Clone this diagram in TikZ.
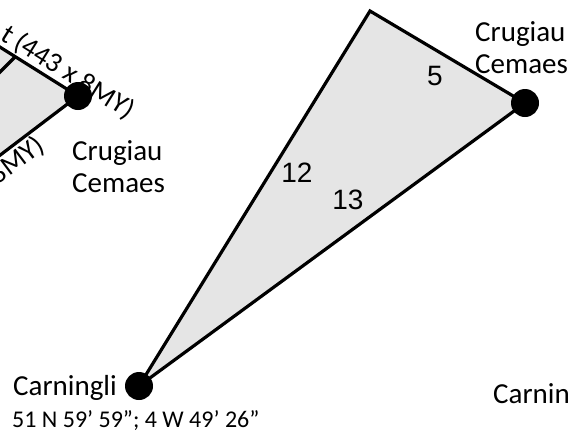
\documentclass[tikz,border=0pt]{standalone}
\usepackage{fontspec}
\setmainfont{Carlito}
\newfontfamily\numfont{Liberation Sans}
\usetikzlibrary{backgrounds}

\begin{document}
\begin{tikzpicture}[x=1pt, y=-1pt,
  site/.style={circle, fill=black, inner sep=0pt, minimum size=28pt},
  edge/.style={line width=3.2pt},
  area/.style={fill=gray!20},
  place/.style={font=\fontsize{29}{32}\selectfont, inner sep=0pt, align=left, anchor=north west},
  side/.style={font=\numfont\fontsize{28}{32}\selectfont, inner sep=0pt},
  dims/.style={font=\fontsize{28}{32}\selectfont, inner sep=0pt},
  coords/.style={font=\fontsize{24}{28}\selectfont, inner sep=0pt, anchor=base west}
]
  \useasboundingbox (0,0) rectangle (568,432);
  \clip (0,0) rectangle (568,432);

  % left figure, cut by the page edge
  \coordinate (topL) at (-5,44);
  \coordinate (botL) at (-5,159);
  \coordinate (innA) at (15,57);
  \coordinate (innB) at (-5,77);
  \node[site] (crugL) at (78,96) {};
  \node[place] (crugLname) at (72,140) {Crugiau\\Cemaes};
  \node[dims, rotate=-32, anchor=base west] (dimTop) at (-1,39) {t (443 x 8MY)};
  \node[dims, rotate=37, anchor=base east] (dimBot) at (46,149) {8MY)};

  % triangle
  \coordinate (apex) at (370,11);
  \node[site] (crugR) at (525,103) {};
  \node[site] (carnL) at (139,386) {};
  \node[side] (s12) at (297,173) {12};
  \node[side] (s13) at (348,200) {13};
  \node[side] (s5) at (435,76) {5};

  \begin{scope}[on background layer]
    \fill[area] (topL) -- (crugL.center) -- (botL) -- cycle;
    \draw[edge] (topL) -- (crugL.center) -- (botL);
    \draw[edge] (innA) -- (innB);
    \draw[edge, area] (apex) -- (crugR.center) -- (carnL.center) -- cycle;
  \end{scope}

  \node[place] (crugRname) at (475,21) {Crugiau\\Cemaes};
  \node[place, anchor=base west] (carnLname) at (13,395) {Carningli};
  \node[coords] (carnLpos) at (12,427) {51 N 59’ 59”; 4 W 49’ 26”};
  \node[place, anchor=base west] (carnRname) at (493,403) {Carnin};
\end{tikzpicture}
\end{document}
